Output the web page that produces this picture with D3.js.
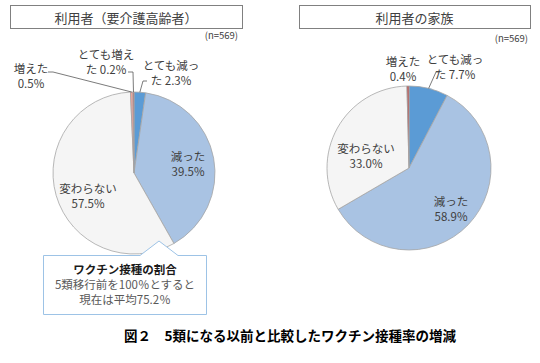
<!DOCTYPE html>
<html>
<head>
<meta charset="utf-8">
<script src="https://cdn.jsdelivr.net/npm/d3@7"></script>
<style>
  body { margin: 0; background: #fff; }
  text { font-family: "Noto Sans CJK JP", "Noto Sans", sans-serif; }
</style>
</head>
<body>
<div id="chart"></div>
<script>
// data
const categories = ["とても減った", "減った", "変わらない", "増えた", "とても増えた"];
const userValues = [2.3, 39.5, 57.5, 0.5, 0.2];
const familyValues = [7.7, 58.9, 33.0, 0.4, 0];
const sampleSize = 569;

const userColors = ["#5b9bd5", "#a9c3e3", "#f5f5f5", "#f0a39b", "#c0504d"];
const familyColors = ["#5b9bd5", "#a9c3e3", "#f5f5f5", "#c0504d", "#c0504d"];

// label layout (offset from pie centre), wrap = split the last char of the name to line 2
const charts = [
  {
    title: "利用者（要介護高齢者）", values: userValues, colors: userColors,
    cx: 134, cy: 173, r: 81, box: [10, 5, 232, 23], nX: 238, nY: 35,
    labels: {
      "減った": { dx: 54, dy: -10 },
      "変わらない": { dx: -46, dy: 22 },
      "増えた": { dx: -103, dy: -98, lead: [[-86, -101], [-81, -101]] },
      "とても増えた": { dx: -28, dy: -112, wrap: true, lead: [[-6, -101], [-1, -101]] },
      "とても減った": { dx: 37, dy: -101, wrap: true, lead: [[13, -92], [9, -92]] }
    }
  },
  {
    title: "利用者の家族", values: familyValues, colors: familyColors,
    cx: 409, cy: 168, r: 82, box: [299, 5, 231, 23], nX: 528, nY: 38,
    labels: {
      "減った": { dx: 42, dy: 40 },
      "変わらない": { dx: -43, dy: -13 },
      "増えた": { dx: -6, dy: -100 },
      "とても減った": { dx: 46, dy: -102, wrap: true, lead: [[31, -96], [27, -96]] }
    }
  }
];

const svg = d3.select("#chart").append("svg")
  .attr("width", 540)
  .attr("height", 363)
  .style("background", "#fff");

const pie = d3.pie().sort(null).value(d => d.value);

charts.forEach(c => {
  // title box
  svg.append("rect")
    .attr("x", c.box[0] + 0.5).attr("y", c.box[1] + 0.5)
    .attr("width", c.box[2]).attr("height", c.box[3])
    .attr("fill", "#fff").attr("stroke", "#808080").attr("stroke-width", 1);
  svg.append("text")
    .attr("x", c.box[0] + c.box[2] / 2).attr("y", c.box[1] + c.box[3] / 2 + 1)
    .attr("text-anchor", "middle").attr("dominant-baseline", "central")
    .attr("font-size", 13).attr("fill", "#404040")
    .text(c.title);
  svg.append("text")
    .attr("x", c.nX).attr("y", c.nY)
    .attr("text-anchor", "end").attr("dominant-baseline", "central")
    .attr("font-size", 9.5).attr("fill", "#404040")
    .text("(n=" + sampleSize + ")");

  const rows = categories.map((k, i) => ({ key: k, value: c.values[i], color: c.colors[i] }))
    .filter(d => d.value > 0);
  const arcs = pie(rows);
  const arc = d3.arc().innerRadius(0).outerRadius(c.r);
  const edge = d3.arc().innerRadius(c.r).outerRadius(c.r);

  const g = svg.append("g").attr("transform", `translate(${c.cx},${c.cy})`);
  g.selectAll("path.slice")
    .data(arcs)
    .enter()
    .append("path")
    .attr("class", "slice")
    .attr("d", arc)
    .attr("fill", d => d.data.color)
    .attr("stroke", "#a6a6a6")
    .attr("stroke-width", 0.8);

  arcs.forEach(d => {
    const lab = c.labels[d.data.key];
    if (!lab) return;
    const name = d.data.key;
    const val = d3.format(".1f")(d.data.value) + "%";
    const lines = lab.wrap
      ? [name.slice(0, -1), name.slice(-1) + " " + val]
      : [name, val];
    const t = g.append("text")
      .attr("text-anchor", "middle")
      .attr("font-size", 11.5)
      .attr("fill", "#404040");
    lines.forEach((s, i) => {
      t.append("tspan")
        .attr("x", lab.dx)
        .attr("y", lab.dy + (i - 0.5) * 15)
        .attr("dominant-baseline", "central")
        .text(s);
    });
    if (lab.lead) {
      const p = edge.centroid(d);
      g.append("polyline")
        .attr("points", [lab.lead[0], lab.lead[1], p].map(q => q.join(",")).join(" "))
        .attr("fill", "none")
        .attr("stroke", "#595959")
        .attr("stroke-width", 0.8);
    }
  });
});

// callout
const call = svg.append("g");
call.append("path")
  .attr("d", "M43.5,255.5 H140 L159,241 L178,255.5 H206.5 V314.5 H43.5 Z")
  .attr("fill", "#fff")
  .attr("stroke", "#9dc3e6")
  .attr("stroke-width", 1);
const calloutLines = ["ワクチン接種の割合", "5類移行前を100％とすると", "現在は平均75.2％"];
calloutLines.forEach((s, i) => {
  call.append("text")
    .attr("x", 125).attr("y", 269 + i * 15)
    .attr("text-anchor", "middle").attr("dominant-baseline", "central")
    .attr("font-size", i === 0 ? 11.5 : 11.5)
    .attr("font-weight", i === 0 ? "bold" : "normal")
    .attr("fill", i === 0 ? "#1a1a1a" : "#595959")
    .text(s);
});

// caption
svg.append("text")
  .attr("x", 290).attr("y", 335)
  .attr("text-anchor", "middle").attr("dominant-baseline", "central")
  .attr("font-size", 13.5).attr("font-weight", "bold").attr("fill", "#000")
  .text("図２　5類になる以前と比較したワクチン接種率の増減");
</script>
</body>
</html>
